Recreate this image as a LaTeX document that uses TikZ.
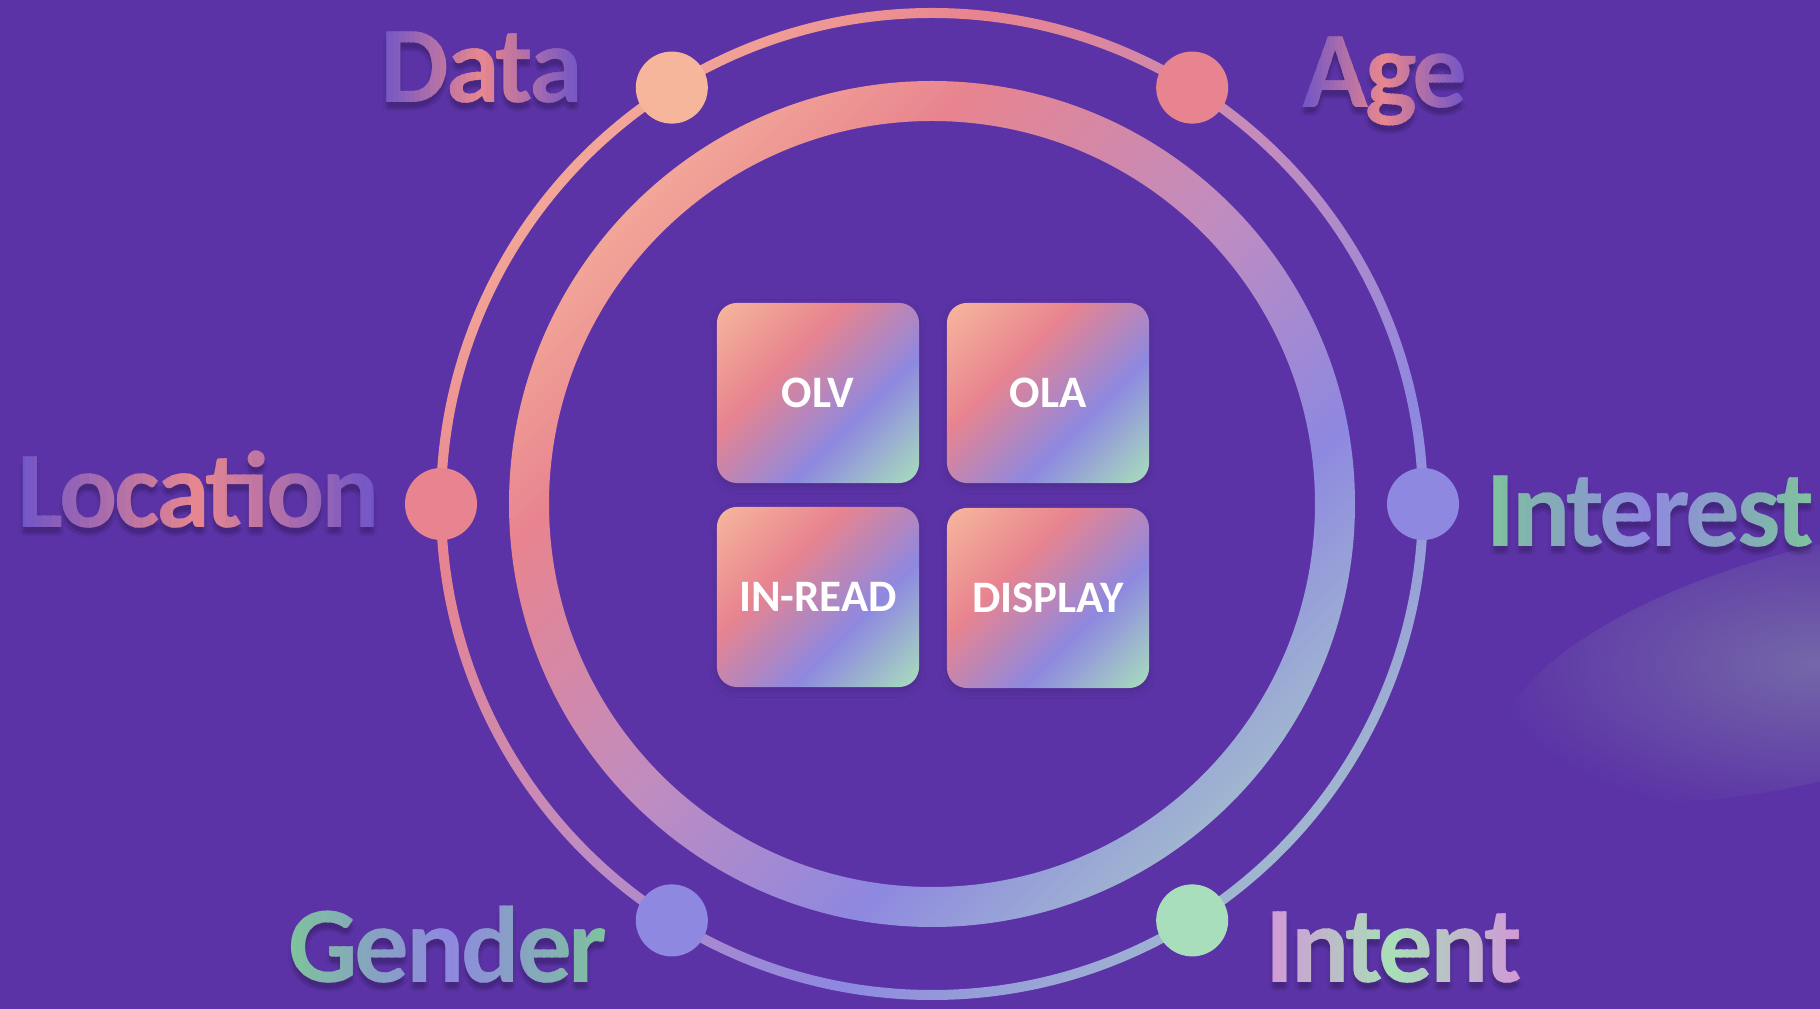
\documentclass[tikz,border=0pt]{standalone}
\usepackage{fontspec}
\setmainfont{Carlito}
\usetikzlibrary{shadows.blur,calc}
\definecolor{bg}{RGB}{91,51,166}
\definecolor{blob}{RGB}{116,103,168}
\definecolor{cpeach}{RGB}{246,182,156}
\definecolor{rpeach}{RGB}{242,166,152}
\definecolor{cpink}{RGB}{232,132,143}
\definecolor{cmauve}{RGB}{192,140,192}
\definecolor{clav}{RGB}{142,136,224}
\definecolor{cgrey}{RGB}{160,182,208}
\definecolor{cmint}{RGB}{168,222,188}
\definecolor{tviolet}{RGB}{110,84,200}
\definecolor{tpink}{RGB}{232,135,143}
\definecolor{tgreen}{RGB}{126,196,156}
\definecolor{tlav}{RGB}{142,136,224}
\definecolor{tlilac}{RGB}{210,150,215}
\definecolor{tmint}{RGB}{168,224,184}
\pgfdeclarehorizontalshading{ringshade}{100bp}{color(0bp)=(rpeach); color(25bp)=(rpeach); color(34bp)=(cpink); color(50bp)=(cmauve); color(64bp)=(clav); color(75bp)=(cgrey); color(100bp)=(cgrey)}
\pgfdeclarehorizontalshading{boxshade}{100bp}{color(0bp)=(cpeach); color(15bp)=(cpeach); color(38bp)=(cpink); color(62bp)=(clav); color(85bp)=(cmint); color(100bp)=(cmint)}
\newcommand\biglab{\fontsize{31}{31}\selectfont\bfseries\addfontfeatures{LetterSpace=-3}}
\newcommand\boxlab{\fontsize{12.8}{13}\selectfont\bfseries}
% gradient label: #1 name, #2 position, #3 text, #4 edge colour, #5 middle colour
\newcommand\gradlabel[5]{%
  \node[lab] (#1) at #2 {\phantom{#3}};
  \foreach \sh/\op in {{(0,-5)}/0.08,{(0,-9)}/0.06,{(3,-7)}/0.05,{(-3,-7)}/0.05}{
    \node[lab, text=black, text opacity=\op, shift=\sh] at #2 {#3};}
  \foreach \i in {0,...,39}{%
    \pgfmathsetmacro\mix{100*abs(\i+0.5-20)/20}%
    \begin{scope}
      \clip ($(#1.south west)!{\i/40}!(#1.south east)+(-0.6,-60)$) rectangle ($(#1.north west)!{(\i+1)/40}!(#1.north east)+(0.6,60)$);
      \node[lab, text={#4!\mix!#5}] at #2 {#3};
    \end{scope}}%
}
\begin{document}
\begin{tikzpicture}[x=0.01cm,y=0.01cm,
  dot/.style={circle, inner sep=0pt, minimum size=0.72cm},
  box/.style={shade, shading=boxshade, shading angle=-45, rounded corners=5.7pt,
    minimum width=2.02cm, minimum height=1.80cm, inner sep=0pt, text=white, font=\boxlab,
    blur shadow={shadow xshift=0pt, shadow yshift=-1pt, shadow blur steps=6, shadow opacity=14}},
  lab/.style={font=\biglab, inner sep=0pt, anchor=base},
  ring/.style={shading=ringshade, shading angle=-45, even odd rule}]
\fill[bg] (0,0) rectangle (1820,1009);
\useasboundingbox (0,0) rectangle (1820,1009);
% soft light patch
\shade[inner color=blob, outer color=bg, rotate around={15:(1815,345)}] (1815,345) ellipse (320 and 115);
\coordinate (C) at (932,505);
% rings
\shade[ring] (C) circle (496) (C) circle (486);
\shade[ring] (C) circle (423) (C) circle (383);
% dots
\node[dot, fill=cpeach] (dData) at ($(C)+(122:491)$) {};
\node[dot, fill=cpink] (dAge) at ($(C)+(58:491)$) {};
\node[dot, fill=cpink] (dLocation) at ($(C)+(180:491)$) {};
\node[dot, fill=clav] (dInterest) at ($(C)+(0:491)$) {};
\node[dot, fill=clav] (dGender) at ($(C)+(-122:491)$) {};
\node[dot, fill=cmint] (dIntent) at ($(C)+(-58:491)$) {};
% boxes
\node[box] (olv) at (818,616) {OLV};
\node[box] (ola) at (1048,616) {OLA};
\node[box] (inread) at (818,412) {IN-READ};
\node[box] (display) at (1048,411) {DISPLAY};
% labels
\gradlabel{tData}{(482,906)}{Data}{tviolet}{tpink}
\gradlabel{tAge}{(1385,901)}{Age}{tviolet}{tpink}
\gradlabel{tLocation}{(199,481)}{Location}{tviolet}{tpink}
\gradlabel{tInterest}{(1650,462)}{Interest}{tgreen}{tlav}
\gradlabel{tGender}{(448,26)}{Gender}{tgreen}{tlav}
\gradlabel{tIntent}{(1394,26)}{Intent}{tlilac}{tmint}
\end{tikzpicture}
\end{document}
